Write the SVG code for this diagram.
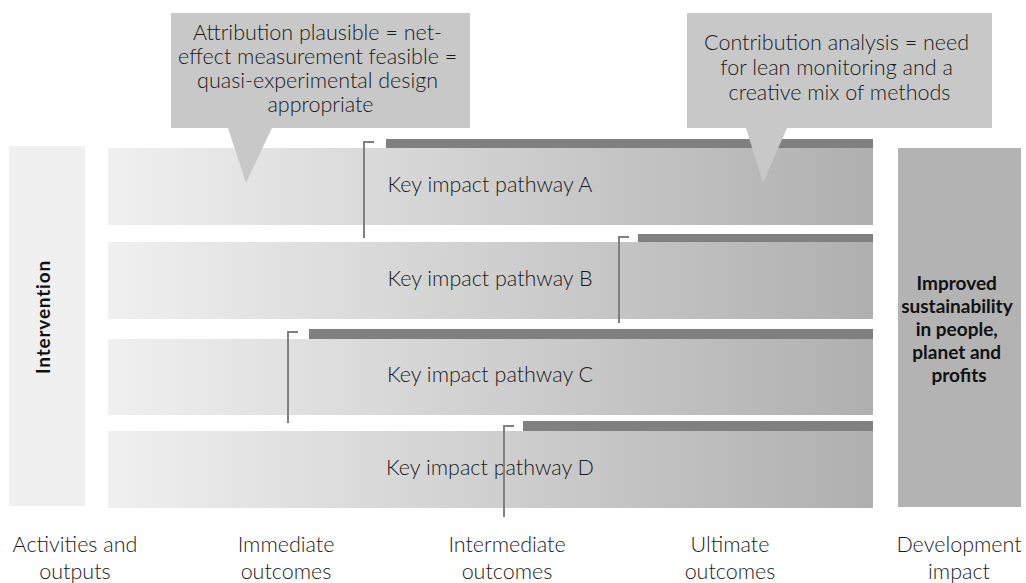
<svg xmlns="http://www.w3.org/2000/svg" width="1026" height="583" viewBox="0 0 1026 583">
  <defs>
    <linearGradient id="rowGrad" x1="0" y1="0" x2="1" y2="0">
      <stop offset="0" stop-color="#f0f0f0"/>
      <stop offset="1" stop-color="#afafaf"/>
    </linearGradient>
    <style>
      .lbl { font-family: Lato, "Open Sans", "Liberation Sans", sans-serif; font-size: 21.5px; fill: #1a1a1a; text-anchor: middle; font-weight: 300; }
      .bold { font-family: Lato, "Open Sans", "Liberation Sans", sans-serif; font-size: 19px; font-weight: 700; fill: #111; text-anchor: middle; }
      .row { fill: url(#rowGrad); }
      .bar { fill: #808080; }
      .brk { fill: none; stroke: #808080; stroke-width: 2; }
      .callout { fill: #c8c8c8; }
    </style>
  </defs>

  <g id="intervention">
    <rect x="9" y="146" width="76" height="360" fill="#f0f0f0"/>
    <text class="bold" letter-spacing="0.8" transform="translate(50,317) rotate(-90)">Intervention</text>
  </g>

  <g id="impact">
    <rect x="898" y="148" width="123" height="359" fill="#b3b3b3"/>
    <text class="bold">
      <tspan x="959" y="290">Improved</tspan>
      <tspan x="959" y="313">sustainability</tspan>
      <tspan x="959" y="336">in people,</tspan>
      <tspan x="959" y="359">planet and</tspan>
      <tspan x="959" y="382">profits</tspan>
    </text>
  </g>

  <g id="pathwayA">
    <rect class="row" x="108" y="148" width="765" height="77"/>
    <rect class="bar" x="386" y="139" width="487" height="9"/>
    <text class="lbl" x="490" y="192">Key impact pathway A</text>
  </g>
  <g id="pathwayB">
    <rect class="row" x="108" y="242" width="765" height="77"/>
    <rect class="bar" x="638" y="234" width="235" height="8"/>
    <text class="lbl" x="490" y="286">Key impact pathway B</text>
  </g>
  <g id="pathwayC">
    <rect class="row" x="108" y="339" width="765" height="76"/>
    <rect class="bar" x="309" y="329" width="564" height="10"/>
    <text class="lbl" x="490" y="382">Key impact pathway C</text>
  </g>
  <g id="pathwayD">
    <rect class="row" x="108" y="431" width="765" height="77"/>
    <rect class="bar" x="523" y="421" width="350" height="10"/>
    <text class="lbl" x="490" y="475">Key impact pathway D</text>
  </g>

  <g id="connectors">
    <polyline class="brk" points="374,142 364,142 364,238"/>
    <polyline class="brk" points="629,237 619,237 619,323"/>
    <polyline class="brk" points="298,332 288,332 288,423"/>
    <polyline class="brk" points="514,426 504,426 504,517"/>
  </g>

  <g id="callout-attribution">
    <rect class="callout" x="171" y="13" width="299" height="115"/>
    <polygon class="callout" points="228,128 272,128 246,183"/>
    <text class="lbl">
      <tspan x="320.5" y="40">Attribution plausible = net-</tspan>
      <tspan x="320.5" y="64">effect measurement feasible =</tspan>
      <tspan x="320.5" y="88">quasi-experimental design</tspan>
      <tspan x="320.5" y="112">appropriate</tspan>
    </text>
  </g>

  <g id="callout-contribution">
    <rect class="callout" x="687" y="13" width="305" height="115"/>
    <polygon class="callout" points="746,128 787,128 763,183"/>
    <text class="lbl">
      <tspan x="839.5" y="50">Contribution analysis = need</tspan>
      <tspan x="839.5" y="75">for lean monitoring and a</tspan>
      <tspan x="839.5" y="100">creative mix of methods</tspan>
    </text>
  </g>

  <g id="axis-labels">
    <text class="lbl"><tspan x="75" y="552">Activities and</tspan><tspan x="75" y="579">outputs</tspan></text>
    <text class="lbl"><tspan x="286" y="552">Immediate</tspan><tspan x="286" y="579">outcomes</tspan></text>
    <text class="lbl"><tspan x="507" y="552">Intermediate</tspan><tspan x="507" y="579">outcomes</tspan></text>
    <text class="lbl"><tspan x="730" y="552">Ultimate</tspan><tspan x="730" y="579">outcomes</tspan></text>
    <text class="lbl"><tspan x="959" y="552">Development</tspan><tspan x="959" y="579">impact</tspan></text>
  </g>
</svg>
